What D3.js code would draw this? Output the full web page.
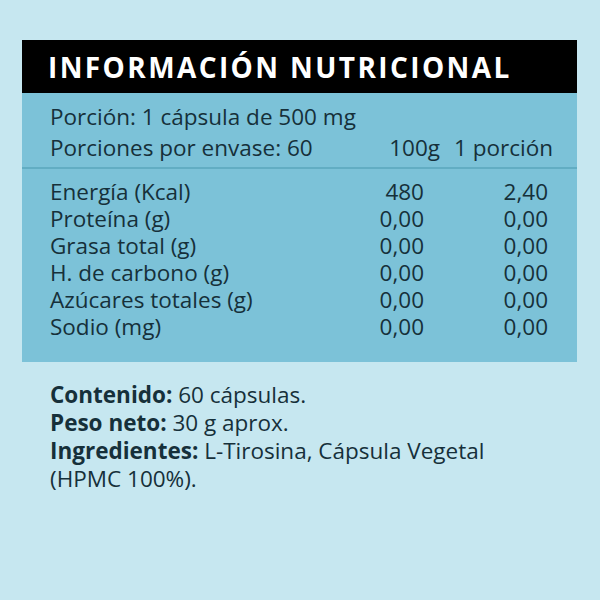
<!DOCTYPE html>
<html><head><meta charset="utf-8">
<script src="https://cdn.jsdelivr.net/npm/d3@7"></script>
<style>body{margin:0;background:#c6e7f0}</style></head>
<body><svg id="c" width="600" height="600"></svg>
<script>
const nutrients = ["Energía (Kcal)", "Proteína (g)", "Grasa total (g)", "H. de carbono (g)", "Azúcares totales (g)", "Sodio (mg)"];
const per100g = ["480", "0,00", "0,00", "0,00", "0,00", "0,00"];
const perPortion = ["2,40", "0,00", "0,00", "0,00", "0,00", "0,00"];
const columns = ["100g", "1 porción"];
const footer = [
  ["Contenido:", " 60 cápsulas."],
  ["Peso neto:", " 30 g aprox."],
  ["Ingredientes:", " L-Tirosina, Cápsula Vegetal"],
  ["", "(HPMC 100%)."]
];

const svg = d3.select("#c");
const font = "'Open Sans', sans-serif";
const size = 22.5;
svg.append("rect").attr("width", 600).attr("height", 600).attr("fill", "#c6e7f0");
svg.append("rect").attr("x", 22).attr("y", 93).attr("width", 555).attr("height", 269).attr("fill", "#7cc2d8");
svg.append("rect").attr("x", 22).attr("y", 40).attr("width", 555).attr("height", 53).attr("fill", "#000");
svg.append("text").attr("x", 48).attr("y", 78).attr("fill", "#fff")
  .attr("font-family", font).attr("font-weight", 700).attr("font-size", 28)
  .attr("letter-spacing", 2.4).text("INFORMACIÓN NUTRICIONAL");
svg.append("line").attr("x1", 22).attr("x2", 577).attr("y1", 168).attr("y2", 168)
  .attr("stroke", "#5aa6bd").attr("stroke-width", 1.5);

const txt = (x, y, s, anchor) => svg.append("text").attr("x", x).attr("y", y)
  .attr("font-family", font).attr("font-size", size).attr("fill", "#16303a")
  .attr("text-anchor", anchor || "start").text(s);

txt(50, 125, "Porción: 1 cápsula de 500 mg");
txt(50, 156, "Porciones por envase: 60");
txt(440, 156, columns[0], "end");
txt(553, 156, columns[1], "end");

const y = d3.scalePoint().domain(nutrients).range([200, 335]);
nutrients.forEach((n, i) => {
  txt(50, y(n), n);
  txt(424, y(n), per100g[i], "end");
  txt(548, y(n), perPortion[i], "end");
});

const fy = d3.scalePoint().domain(d3.range(footer.length)).range([403, 487]);
footer.forEach((f, i) => {
  const t = svg.append("text").attr("x", 50).attr("y", fy(i))
    .attr("font-family", font).attr("font-size", size).attr("fill", "#16303a");
  t.append("tspan").attr("font-weight", 700).text(f[0]);
  t.append("tspan").text(f[1]);
});
</script></body></html>
